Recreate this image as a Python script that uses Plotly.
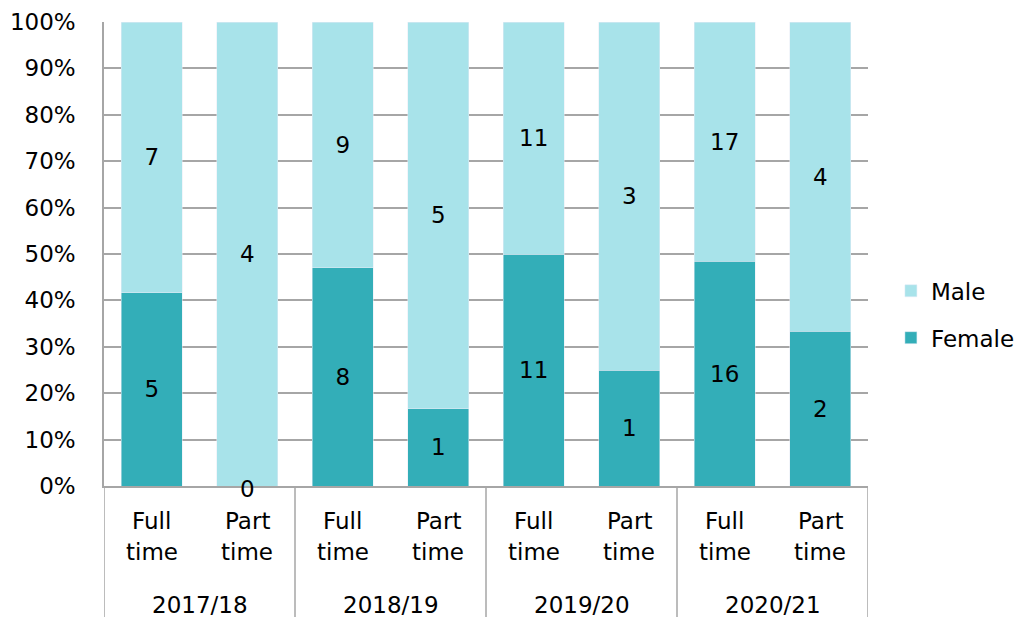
import plotly.graph_objects as go

years = ["2017/18", "2018/19", "2019/20", "2020/21"]
modes = ["Full time", "Part time"]
female = [5, 0, 8, 1, 11, 1, 16, 2]
male = [7, 4, 9, 5, 11, 3, 17, 4]

FEMALE_COLOR = "#33AEB8"
MALE_COLOR = "#A8E3EA"
GRID = "#A6A6A6"
FONT = dict(family="DejaVu Sans", size=23, color="#000000")

# one category per (year, mode) bar
cats = [f"{y} {m}" for y in years for m in modes]

fig = go.Figure()
fig.add_trace(go.Bar(
    x=cats, y=female, name="Female", marker_color=FEMALE_COLOR,
    legendgroup="f", legendrank=2,
    text=[str(v) if v else "" for v in female],
    textposition="inside", insidetextanchor="middle", textangle=0,
    textfont=FONT, constraintext="none",
))
fig.add_trace(go.Bar(
    x=cats, y=male, name="Male", marker_color=MALE_COLOR,
    legendgroup="m", legendrank=1,
    text=[str(v) if v else "" for v in male],
    textposition="inside", insidetextanchor="middle", textangle=0,
    textfont=FONT, constraintext="none",
))

# zero-count labels sit on the baseline
for i, v in enumerate(female):
    if v == 0:
        fig.add_annotation(x=i, y=0, xref="x", yref="y", text="0",
                           showarrow=False, font=FONT, yanchor="middle",
                           yshift=-3)

# two-level category labels and group dividers under the axis
for i, cat in enumerate(cats):
    first, second = modes[i % 2].split(" ")
    fig.add_annotation(x=i, y=0, xref="x", yref="paper", text=first,
                       showarrow=False, font=FONT, yanchor="middle", yshift=-35)
    fig.add_annotation(x=i, y=0, xref="x", yref="paper", text=second,
                       showarrow=False, font=FONT, yanchor="middle", yshift=-66)
for g, y in enumerate(years):
    fig.add_annotation(x=g * 2 + 0.5, y=0, xref="x", yref="paper", text=y,
                       showarrow=False, font=FONT, yanchor="middle", yshift=-119)
for g in range(len(years) + 1):
    fig.add_shape(type="line", xref="x", yref="paper",
                  x0=g * 2 - 0.5, x1=g * 2 - 0.5, y0=0, y1=-0.32,
                  line=dict(color=GRID, width=1.5))

fig.update_layout(
    barmode="stack", barnorm="percent", bargap=0.36,
    width=1018, height=617,
    margin=dict(l=104, r=150, t=22, b=131, autoexpand=False),
    plot_bgcolor="white", paper_bgcolor="white",
    font=FONT,
    legend=dict(x=1.03, y=0.37, xanchor="left", yanchor="middle",
                font=FONT, traceorder="grouped", itemwidth=30,
                tracegroupgap=14),
    showlegend=True,
)
fig.update_yaxes(
    range=[0, 100], dtick=10, ticksuffix="%",
    showgrid=True, gridcolor=GRID, gridwidth=1.5,
    showline=True, linecolor=GRID, linewidth=1.5,
    ticks="", ticklabelstandoff=22,
    zeroline=False, tickfont=FONT,
)
fig.update_xaxes(
    type="category", range=[-0.5, len(cats) - 0.5],
    showline=True, linecolor=GRID, linewidth=1.5,
    showticklabels=False, ticks="",
)

fig.write_html("out.html")
